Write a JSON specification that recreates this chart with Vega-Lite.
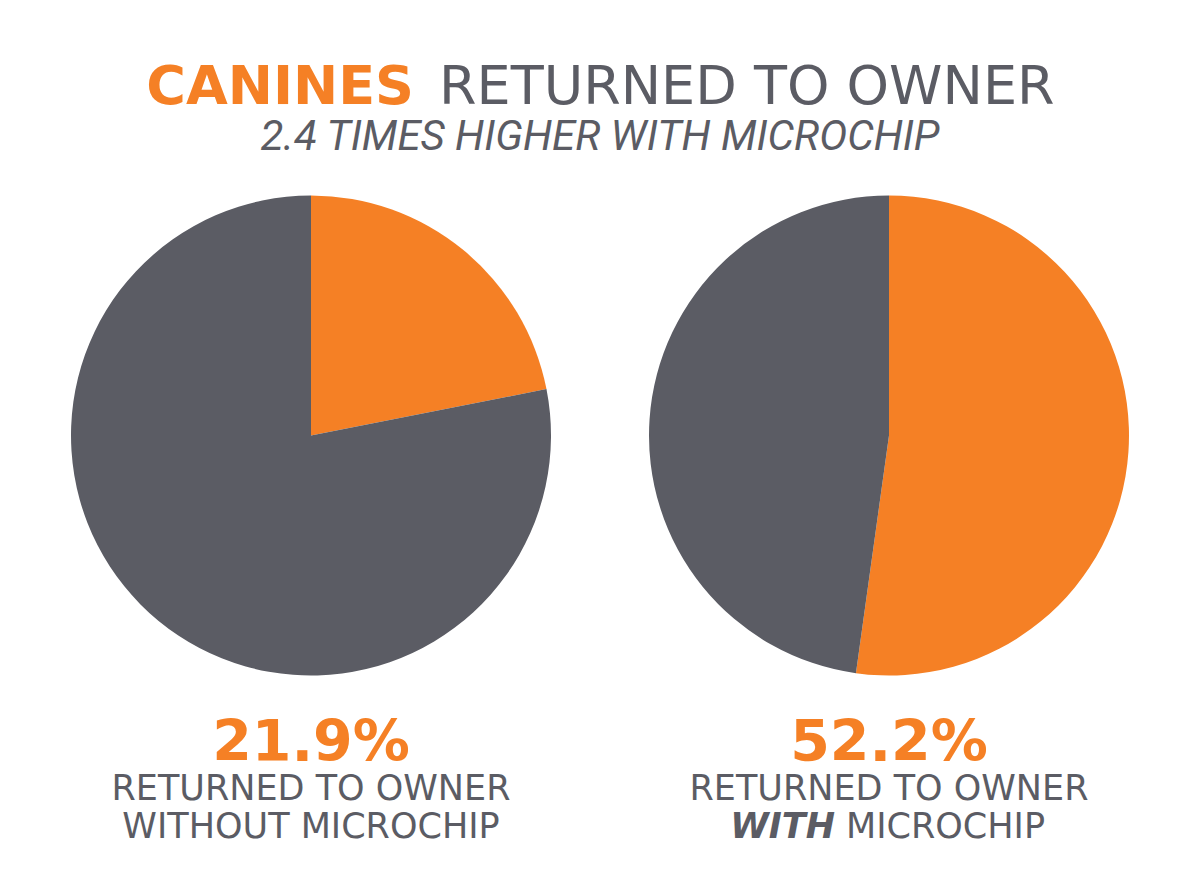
{
  "$schema": "https://vega.github.io/schema/vega-lite/v6.json",
  "width": 1200,
  "height": 871,
  "autosize": {"type": "fit", "contains": "padding"},
  "padding": 0,
  "background": "white",
  "config": {"view": {"stroke": null}},
  "datasets": {
    "slices": [
      {"pie": "without", "status": "Returned", "value": 21.9},
      {"pie": "without", "status": "Not returned", "value": 78.1},
      {"pie": "with", "status": "Returned", "value": 52.2},
      {"pie": "with", "status": "Not returned", "value": 47.8}
    ],
    "labels": [
      {"pie": "without", "row": "pct", "text": "21.9%"},
      {"pie": "with", "row": "pct", "text": "52.2%"},
      {"pie": "without", "row": "line1", "text": "RETURNED TO OWNER"},
      {"pie": "with", "row": "line1", "text": "RETURNED TO OWNER"},
      {"pie": "without", "row": "line2", "text": "WITHOUT MICROCHIP"},
      {"pie": "with", "row": "line2", "text": "WITH"},
      {"pie": "with", "row": "line2", "text": "MICROCHIP"}
    ],
    "titles": [
      {"part": "highlight", "text": "CANINES"},
      {"part": "rest", "text": "RETURNED TO OWNER"},
      {"part": "subtitle", "text": "2.4 TIMES HIGHER WITH MICROCHIP"}
    ]
  },
  "layer": [
    {
      "data": {"name": "slices"},
      "transform": [{"filter": "datum.pie === 'without'"}],
      "mark": {"type": "arc", "radius": 240},
      "encoding": {
        "x": {"field": "pie", "type": "nominal", "scale": {"type": "point", "domain": ["without", "with"], "range": [311, 889], "padding": 0}, "axis": null},
        "theta": {"field": "value", "type": "quantitative", "stack": true},
        "color": {"field": "status", "type": "nominal", "scale": {"domain": ["Returned", "Not returned"], "range": ["#F58025", "#5B5C64"]}, "legend": null},
        "order": {"field": "status", "sort": "descending"}
      }
    },
    {
      "data": {"name": "slices"},
      "transform": [{"filter": "datum.pie === 'with'"}],
      "mark": {"type": "arc", "radius": 240},
      "encoding": {
        "x": {"field": "pie", "type": "nominal", "scale": {"type": "point", "domain": ["without", "with"], "range": [311, 889], "padding": 0}, "axis": null},
        "theta": {"field": "value", "type": "quantitative", "stack": true},
        "color": {"field": "status", "type": "nominal", "scale": {"domain": ["Returned", "Not returned"], "range": ["#F58025", "#5B5C64"]}, "legend": null},
        "order": {"field": "status", "sort": "descending"}
      }
    },
    {
      "data": {"name": "labels"},
      "transform": [{"filter": "datum.row === 'pct'"}],
      "mark": {"type": "text", "font": "DejaVu Sans", "fontWeight": "bold", "fontSize": 57, "color": "#F58025", "align": "center", "baseline": "alphabetic"},
      "encoding": {
        "x": {"field": "pie", "type": "nominal", "scale": {"type": "point", "domain": ["without", "with"], "range": [311, 889], "padding": 0}, "axis": null},
        "y": {"field": "row", "type": "nominal", "scale": {"type": "point", "domain": ["pct", "line1", "line2"], "range": [761, 838], "padding": 0}, "axis": null},
        "text": {"field": "text"}
      }
    },
    {
      "data": {"name": "labels"},
      "transform": [{"filter": "datum.row === 'line1' || (datum.row === 'line2' && datum.pie === 'without')"}],
      "mark": {"type": "text", "font": "DejaVu Sans", "fontSize": 35, "color": "#5B5C64", "align": "center", "baseline": "alphabetic"},
      "encoding": {
        "x": {"field": "pie", "type": "nominal", "scale": {"type": "point", "domain": ["without", "with"], "range": [311, 889], "padding": 0}, "axis": null},
        "y": {"field": "row", "type": "nominal", "scale": {"type": "point", "domain": ["pct", "line1", "line2"], "range": [761, 838], "padding": 0}, "axis": null},
        "text": {"field": "text"}
      }
    },
    {
      "data": {"name": "labels"},
      "transform": [{"filter": "datum.row === 'line2' && datum.text === 'WITH'"}],
      "mark": {"type": "text", "font": "DejaVu Sans", "fontWeight": "bold", "fontStyle": "italic", "fontSize": 35, "color": "#5B5C64", "align": "right", "baseline": "alphabetic", "dx": -54},
      "encoding": {
        "x": {"field": "pie", "type": "nominal", "scale": {"type": "point", "domain": ["without", "with"], "range": [311, 889], "padding": 0}, "axis": null},
        "y": {"field": "row", "type": "nominal", "scale": {"type": "point", "domain": ["pct", "line1", "line2"], "range": [761, 838], "padding": 0}, "axis": null},
        "text": {"field": "text"}
      }
    },
    {
      "data": {"name": "labels"},
      "transform": [{"filter": "datum.row === 'line2' && datum.text === 'MICROCHIP'"}],
      "mark": {"type": "text", "font": "DejaVu Sans", "fontSize": 35, "color": "#5B5C64", "align": "left", "baseline": "alphabetic", "dx": -43},
      "encoding": {
        "x": {"field": "pie", "type": "nominal", "scale": {"type": "point", "domain": ["without", "with"], "range": [311, 889], "padding": 0}, "axis": null},
        "y": {"field": "row", "type": "nominal", "scale": {"type": "point", "domain": ["pct", "line1", "line2"], "range": [761, 838], "padding": 0}, "axis": null},
        "text": {"field": "text"}
      }
    },
    {
      "data": {"name": "titles"},
      "transform": [{"filter": "datum.part === 'highlight'"}],
      "mark": {"type": "text", "font": "DejaVu Sans", "fontWeight": "bold", "fontSize": 54, "color": "#F58025", "align": "right", "baseline": "alphabetic", "x": {"expr": "width / 2"}, "dx": -186},
      "encoding": {"y": {"value": 104}, "text": {"field": "text"}}
    },
    {
      "data": {"name": "titles"},
      "transform": [{"filter": "datum.part === 'rest'"}],
      "mark": {"type": "text", "font": "DejaVu Sans", "fontSize": 54, "color": "#5B5C64", "align": "left", "baseline": "alphabetic", "x": {"expr": "width / 2"}, "dx": -161},
      "encoding": {"y": {"value": 104}, "text": {"field": "text"}}
    },
    {
      "data": {"name": "titles"},
      "transform": [{"filter": "datum.part === 'subtitle'"}],
      "mark": {"type": "text", "font": "Roboto", "fontStyle": "italic", "fontSize": 42, "color": "#5B5C64", "align": "center", "baseline": "alphabetic", "x": {"expr": "width / 2"}},
      "encoding": {"y": {"value": 150}, "text": {"field": "text"}}
    }
  ]
}
